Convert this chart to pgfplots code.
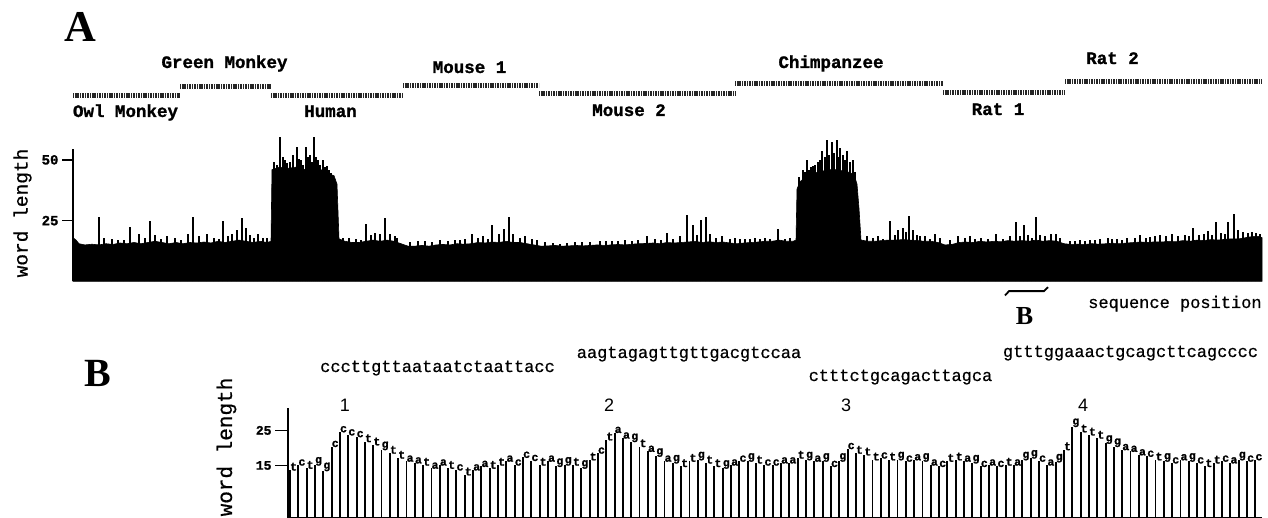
\documentclass[border=0pt]{standalone}
\usepackage{fontspec}
\setmainfont{Liberation Serif}
\setmonofont{Liberation Mono}
\setsansfont{Liberation Sans}
\newfontfamily\hmono[FakeBold=1.3]{Liberation Mono}
\newfontfamily\mmono[FakeBold=0.6]{Liberation Mono}
\usepackage{pgfplots}
\pgfplotsset{compat=1.18}
\begin{document}
\begin{tikzpicture}[x=1pt,y=1pt]
\useasboundingbox (0,0) rectangle (1268,518);
% ---------------- Panel A ----------------
\begin{axis}[
  at={(73pt,236.6pt)}, anchor=south west,
  scale only axis, width=1189pt, height=132pt,
  xmin=73, xmax=1262, ymin=0, ymax=54.3,
  axis x line=none, axis y line=left,
  axis line style={-, line width=1.8pt},
  every inner y axis line/.append style={-},
  every outer y axis line/.append style={-},
  xtick=\empty, ytick={25,50},
  tick align=outside, major tick length=11pt,
  tick style={line width=1.5pt, black},
  /pgf/number format/assume math mode=true,
  yticklabel style={font=\hmono\bfseries\fontsize{14}{14}\selectfont},
  clip=false]
\addplot[fill=black, draw=black, line width=0.6pt] coordinates {
(73,18)(76,17)(79,15.5)(85,15)(92,15.3)(99,15)(106,15.5)(113,15.2)(120,15.8)(127,15.5)(134,16)(141,15.5)(148,16)(155,16.5)(162,16)(169,15.5)(176,16)(183,15.5)(190,16)(197,15.8)(204,16.2)(211,15.8)(218,16.5)(225,16)(232,16.5)(239,17)(246,16.5)(253,16)(260,16.5)(267,16)(271,16.5)
(272,46)(280,47)(288,46.5)(296,47)(304,46)(312,47)(320,46)(326,45.5)(330,44)(334,43.5)(337,40)(339,17.5)
(345,16.5)(352,16)(359,16)(366,16.5)(373,17)(380,16.5)(387,17)(394,16.5)(401,15.5)(408,14.5)(415,14.5)(422,14.8)(429,14.5)(436,15)(443,15.2)(450,15)(457,15.5)(464,15.3)(471,15.5)(478,16)(485,15.8)(492,16.2)(499,16)(506,16.5)(513,16)(520,16)(527,15.5)(534,15)(541,14.5)(548,14.6)(555,14.8)(562,14.5)(569,14.6)(576,14.8)(583,14.6)(590,14.8)(597,15)(604,14.8)(611,15)(618,15.2)(625,15)(632,15.3)(639,15.5)(646,15.6)(653,15.8)(660,15.5)(667,16)(674,15.8)(681,16)(688,16.2)(695,16.5)(702,16)(709,16.3)(716,16)(723,16.2)(730,15.8)(737,15.5)(744,15.8)(751,16)(758,16.2)(765,16.5)(772,16.5)(779,17)(786,16.5)(793,16.5)(796,17)
(797,38)(800,41)(806,43)(812,44)(818,45)(824,45.5)(830,46)(836,46)(842,45.5)(848,45)(854,44)(857,40)(859,30)(861,17)
(868,16.5)(875,16.5)(882,16.8)(889,17)(896,17)(903,17.2)(910,17)(917,16.8)(924,16.5)(931,16.5)(938,16)(945,15)(952,15.2)(959,16)(966,16.2)(973,16)(980,16.5)(987,16.2)(994,16.5)(1001,16.3)(1008,16.8)(1015,16.5)(1022,16.8)(1029,16.5)(1036,17)(1043,16.5)(1050,16.8)(1057,16.5)(1064,15.5)(1071,15.2)(1078,15.3)(1085,15.2)(1092,15.5)(1099,15.3)(1106,15.5)(1113,15.7)(1120,15.5)(1127,15.8)(1134,16)(1141,16.2)(1148,16)(1155,16.3)(1162,16.2)(1169,16.5)(1176,16.3)(1183,16.8)(1190,16.5)(1197,17)(1204,16.8)(1211,17.2)(1218,17)(1225,17.3)(1232,17.5)(1239,17.5)(1246,18)(1253,18.5)(1258,18.5)(1262,18)
} \closedcycle;
\addplot[ycomb, black, line width=2.2pt] coordinates {
(99,26.4)(104,18)(112,17.5)(118,17)(124,17.2)(130,22.3)(139,19.5)(145,18)(150,24.9)(155,19)(161,17.5)(167,18.6)(175,17.8)(181,17.2)(188,19.6)(193,26.4)(199,18.5)(207,19.6)(214,18)(219,17.5)(223,25)(228,18.5)(232,19.6)(237,21)(242,26)(246,22)(250,19)(254,18)(258,19.6)(263,18)(267,18)
(274,49.2)(277,48)(280,59.5)(283,51)(285,50)(287,48.5)(290,49)(293,52)(297,55.4)(299,50.5)(301,50)(303,48)(306,55.4)(308,51)(310,52)(312,49)(314,59.5)(316,51)(318,50)(320,48)(323,50)(325,47)(327,47.5)(329,46)(331,44.5)
(343,18)(349,18)(356,17.5)(361,17.2)(366,23.6)(371,19)(375,20)(380,19.5)(385,26)(390,19.6)(395,18.5)(397,18)
(410,16)(418,16.5)(425,16.5)(432,16.3)(440,17)(448,16.8)(455,17)(460,17.2)(465,17.5)(472,19.6)(478,18)(483,18.5)(488,17.5)(492,23.4)(499,19.5)(504,21.5)(509,26.4)(513,19.5)(520,18)(525,18.5)(532,17.5)(537,17)
(545,16)(553,15.8)(560,15.5)(567,15.8)(575,16)(582,16.2)(590,16)(600,16.5)(606,16.8)(612,16.5)(618,16.8)(625,17)(632,16.8)(638,17)(647,18.5)(655,17.5)(661,17.2)(667,20.1)(673,17.5)(680,18.5)(687,27.3)(693,23.4)(697,19)(701,25.4)(706,26.4)(710,19.5)(716,18)(722,18.5)(730,17.5)(735,17.8)(740,17.5)(745,17.3)(750,17.5)(755,17.8)(760,17.5)(765,17.8)(770,17.5)(778,21.4)(785,17.5)(790,17.8)
(799,43)(803,46)(805,45)(807,50)(809,46)(811,47)(813,47.5)(815,48)(818,49)(820,50)(822,53.5)(825,51)(827,58.2)(829,52)(832,57.5)(834,53)(837,58.2)(839,51)(840,55)(843,52)(845,50)(847,53.5)(850,49)(853,50)(855,45)
(867,18.5)(873,18)(878,18.5)(883,17.5)(890,24.9)(895,19)(898,21)(903,22)(906,20.5)(909,27)(913,21)(917,19)(920,18.5)(925,18.5)(930,17.5)(935,19.6)(940,18)(950,17)(958,18.8)(965,18)(970,18.5)(975,17.5)(981,18)(988,17.5)(996,19.6)(1003,17.5)(1010,18.5)(1016,24.5)(1020,18.5)(1024,23.4)(1028,19)(1032,18)(1036,26.4)(1040,19)(1045,18.5)(1051,19.6)(1056,19.5)(1060,18)
(1070,16.5)(1075,16.8)(1080,17)(1085,16.8)(1090,17)(1095,17.2)(1100,17.5)(1108,17.8)(1112,17.3)(1117,17.5)(1122,17.2)(1127,18)(1135,18)(1140,19)(1146,18)(1150,18.2)(1155,18.5)(1160,19)(1166,18.5)(1172,19.5)(1178,18.5)(1185,19)(1189,18.5)(1193,21.8)(1199,19)(1204,19.5)(1208,20.8)(1212,19)(1216,24.5)(1221,20)(1225,19.5)(1228,24.5)(1234,27.8)(1238,21)(1243,20.5)(1248,20)(1252,20.5)(1256,20)(1260,19.5)
};
% sequence segments
\pgfplotsset{seg/.style={line width=5pt, black!85, dash pattern=on 1.1pt off 0.6pt}}
\addplot[seg] coordinates {(73,76.3) (180,76.3)};
\addplot[seg] coordinates {(180,80.0) (271,80.0)};
\addplot[seg] coordinates {(271,76.3) (403,76.3)};
\addplot[seg] coordinates {(403,80.4) (539,80.4)};
\addplot[seg] coordinates {(539,77.1) (735,77.1)};
\addplot[seg] coordinates {(735,81.6) (943,81.6)};
\addplot[seg] coordinates {(943,77.9) (1065,77.9)};
\addplot[seg] coordinates {(1065,82.1) (1261,82.1)};
% bracket for B
\addplot[black, line width=1.8pt] coordinates {(1005,-5.8) (1009,-4) (1044,-4) (1048,-2.4)};
\end{axis}
% ---------------- Panel B ----------------
\begin{axis}[
  at={(288pt,0pt)}, anchor=south west,
  scale only axis, width=974pt, height=110pt,
  xmin=0.76, xmax=117.8, ymin=0, ymax=31.4,
  axis x line=bottom, axis y line=left,
  axis line style={-, line width=1.8pt},
  every inner y axis line/.append style={-},
  every outer y axis line/.append style={-},
  every inner x axis line/.append style={-},
  every outer x axis line/.append style={-},
  xtick=\empty, ytick={15,25},
  tick align=outside, major tick length=13pt,
  tick style={line width=1.5pt, black},
  /pgf/number format/assume math mode=true,
  yticklabel style={font=\hmono\bfseries\fontsize{13}{13}\selectfont},
  clip=false]
\addplot[ycomb, black, line width=1.9pt,
  nodes near coords, point meta=explicit symbolic,
  every node near coord/.style={font=\hmono\bfseries\fontsize{11.5}{11.5}\selectfont, anchor=south west, inner sep=0pt, xshift=-0.8pt, yshift=-1.5pt, black}]
coordinates {
(1,13.7)[t] (2,15.1)[c] (3,14.2)[t] (4,15.1)[g] (5,13.5)[g] (6,20.4)[c] (7,24.6)[c] (8,23.7)[c] (9,23.2)[c] (10,21.8)[t]
(11,20.9)[t] (12,19.5)[g] (13,18.5)[t] (14,17.1)[t] (15,16.2)[a] (16,15.7)[a] (17,15.1)[t] (18,14.2)[a] (19,15.1)[a] (20,14.2)[t]
(21,13.7)[c] (22,12.3)[t] (23,13.7)[a] (24,14.7)[a] (25,14.2)[t] (26,15.1)[t] (27,16.2)[a] (28,15.1)[c] (29,17.3)[c] (30,16.4)[c]
(31,15.1)[t] (32,16.2)[a] (33,14.7)[g] (34,15.1)[g] (35,15.1)[t] (36,14.2)[g] (37,16.6)[t] (38,18.5)[c] (39,22.3)[t] (40,24.4)[a]
(41,22.8)[a] (42,21.8)[g] (43,20.4)[t] (44,19.0)[a] (45,17.6)[g] (46,16.2)[a] (47,15.7)[g] (48,14.7)[t] (49,16.2)[t] (50,16.6)[g]
(51,15.7)[t] (52,14.7)[t] (53,14.2)[g] (54,15.1)[a] (55,16.2)[c] (56,16.2)[g] (57,15.7)[t] (58,15.1)[c] (59,15.1)[c] (60,15.7)[a]
(61,15.7)[a] (62,17.1)[t] (63,16.6)[g] (64,16.2)[a] (65,16.2)[g] (66,14.7)[c] (67,16.2)[g] (68,19.8)[c] (69,18.5)[t] (70,18.0)[t]
(71,16.6)[t] (72,17.1)[c] (73,16.6)[t] (74,16.6)[g] (75,16.2)[c] (76,16.6)[a] (77,16.2)[g] (78,15.1)[a] (79,14.7)[c] (80,16.2)[t]
(81,16.6)[t] (82,16.2)[a] (83,15.7)[g] (84,14.7)[c] (85,15.1)[a] (86,14.7)[c] (87,15.1)[t] (88,15.1)[a] (89,16.6)[g] (90,17.1)[g]
(91,16.2)[c] (92,15.1)[a] (93,16.0)[g] (94,19.5)[t] (95,26.1)[g] (96,24.6)[t] (97,23.7)[t] (98,22.8)[t] (99,21.3)[g] (100,20.4)[g]
(101,19.5)[a] (102,19.0)[a] (103,18.0)[a] (104,17.6)[c] (105,16.6)[t] (106,16.2)[g] (107,15.7)[c] (108,16.6)[a] (109,16.2)[g] (110,15.7)[c]
(111,14.7)[t] (112,15.7)[t] (113,16.2)[c] (114,15.7)[a] (115,16.6)[g] (116,16.2)[c] (117,16.6)[c]
};
\end{axis}
% ---------------- Text ----------------
\node[font=\bfseries\fontsize{44}{44}\selectfont, inner sep=0pt] at (80,491) {A};
\node[font=\bfseries\fontsize{40}{40}\selectfont, inner sep=0pt] at (98,145) {B};
\begin{scope}[every node/.style={font=\hmono\bfseries\fontsize{17.5}{17.5}\selectfont, inner sep=0pt, anchor=base}]
\node at (224.5,450) {Green Monkey};
\node at (469.5,445) {Mouse 1};
\node at (831,450) {Chimpanzee};
\node at (1112.5,454) {Rat 2};
\node at (125.5,401) {Owl Monkey};
\node at (330.5,401) {Human};
\node at (629,402) {Mouse 2};
\node at (998,403) {Rat 1};
\end{scope}
\node[font=\mmono\fontsize{19.5}{19.5}\selectfont, rotate=90, inner sep=0pt] at (22.5,305) {word length};
\node[font=\mmono\fontsize{21}{21}\selectfont, rotate=90, inner sep=0pt] at (226.5,71) {word length};
\node[font=\mmono\fontsize{17}{17}\selectfont, inner sep=0pt, anchor=base west] at (1088,210) {sequence position};
\node[font=\bfseries\fontsize{26}{26}\selectfont, inner sep=0pt] at (1024.5,201.5) {B};
\begin{scope}[every node/.style={font=\mmono\fontsize{17}{17}\selectfont, inner sep=0pt, anchor=base}]
\node at (437.5,146) {cccttgttaataatctaattacc};
\node at (689,160) {aagtagagttgttgacgtccaa};
\node at (900.5,137) {ctttctgcagacttagca};
\node at (1130.5,161) {gtttggaaactgcagcttcagcccc};
\end{scope}
\begin{scope}[every node/.style={font=\sffamily\fontsize{18}{18}\selectfont, inner sep=0pt}]
\node at (345,113) {1};
\node at (609,113) {2};
\node at (846,113) {3};
\node at (1083,113) {4};
\end{scope}
\end{tikzpicture}
\end{document}
